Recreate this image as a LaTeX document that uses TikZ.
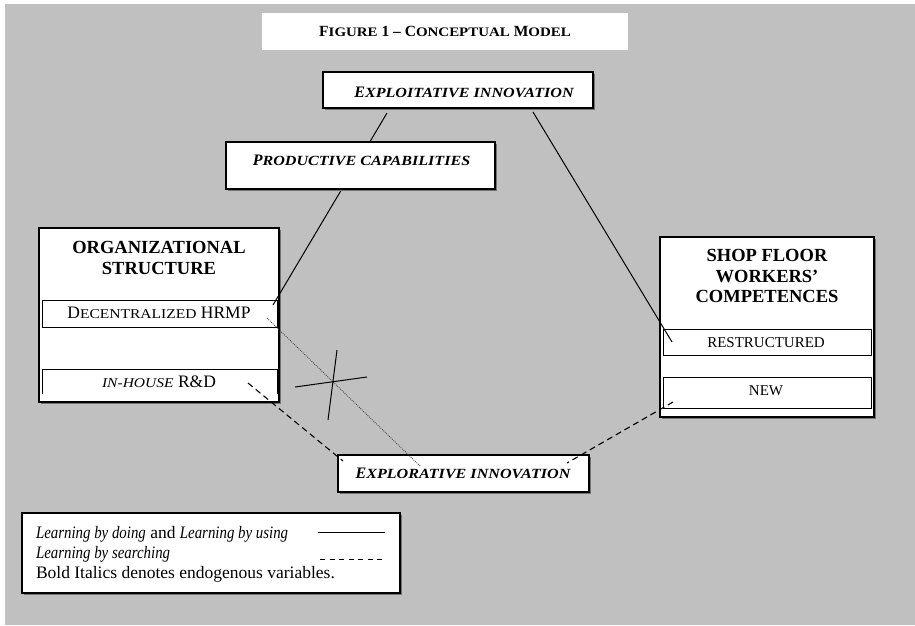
\documentclass[tikz,border=0pt]{standalone}
\usepackage{fontspec}
\setmainfont{Liberation Serif}
\newfontfamily\scf[FakeStretch=1.15]{Liberation Serif}
\newfontfamily\nit[FakeStretch=0.85]{Liberation Serif}
\usetikzlibrary{shadows}
\newcommand\sm[2]{{\scf\fontsize{#1}{#1}\selectfont #2}}
\newcommand\li[1]{{\nit\itshape #1}}
\definecolor{bggray}{HTML}{C0C0C0}
\begin{document}
\begin{tikzpicture}[x=1pt,y=-1pt,
  bigbox/.style={draw=black, fill=white, line width=1.1pt, inner sep=0pt, outer sep=0pt,
     drop shadow={shadow xshift=1.6pt, shadow yshift=-1.6pt, fill=black!55, opacity=1}},
  smallbox/.style={draw=black, fill=white, line width=0.9pt, inner sep=0pt, outer sep=0pt},
  txt/.style={inner sep=0pt, outer sep=0pt, align=center},
  solidlink/.style={draw=black, line width=1pt},
  dashlink/.style={draw=black, line width=1.1pt, dash pattern=on 6pt off 4pt},
  dotlink/.style={draw=black!75, line width=0.8pt, dash pattern=on 0.9pt off 1.1pt},
  bi/.style={font=\bfseries\itshape\fontsize{16}{19}\selectfont},
  rg/.style={font=\fontsize{17.5}{20}\selectfont},
  ttl/.style={font=\bfseries\fontsize{18.5}{20.5}\selectfont}
]
% background
\useasboundingbox (0,0) rectangle (915,625);
\fill[white] (0,0) rectangle (915,625);
\fill[bggray] (5,4) rectangle (915,625);

% title
\node[fill=white, inner sep=0pt, minimum width=366pt, minimum height=37pt] (titlebox) at (445,31.5) {};
\node[txt, font=\bfseries\fontsize{15.5}{18}\selectfont] (title) at (445,31)
  {F\sm{13}{IGURE} 1 -- C\sm{13}{ONCEPTUAL} M\sm{13}{ODEL}};

% organizational structure
\node[bigbox, minimum width=240pt, minimum height=174pt] (org) at (159,315) {};
\node[txt, ttl] (orgt) at (159,258) {ORGANIZATIONAL\\STRUCTURE};
\node[smallbox, minimum width=235pt, minimum height=27pt] (hrmp) at (159.5,313.5) {};
\node[txt, rg] (hrmpt) at (159,313) {D\sm{13.5}{ECENTRALIZED} HRMP};
\node[inner sep=0pt, outer sep=0pt, minimum width=235pt, minimum height=25pt] (rd) at (159.5,381.5) {};
\draw[line width=0.9pt] (rd.south west) -- (rd.north west) -- (rd.north east) -- (rd.south east);
\node[txt, rg] (rdt) at (159,382) {\textit{\sm{13.5}{IN-HOUSE}} R\&D};

% shop floor workers' competences
\node[bigbox, minimum width=214pt, minimum height=180pt] (shop) at (767,327) {};
\node[txt, ttl] (shopt) at (767,276) {SHOP FLOOR\\WORKERS’\\COMPETENCES};
\node[smallbox, minimum width=208pt, minimum height=26pt] (restr) at (767,342) {};
\node[txt, font=\fontsize{15}{18}\selectfont] (restrt) at (766,342.5) {RESTRUCTURED};
\node[smallbox, minimum width=208pt, minimum height=31pt] (new) at (767,392.5) {};
\node[txt, font=\fontsize{15}{18}\selectfont] (newt) at (766,391) {NEW};

% explorative innovation
\node[bigbox, minimum width=251pt, minimum height=37pt] (explor) at (463.5,473.5) {};
\node[txt, bi] (explort) at (463,473.5) {E\sm{14}{XPLORATIVE INNOVATION}};

% exploitative innovation
\node[bigbox, minimum width=270pt, minimum height=36pt] (exploit) at (458,90) {};
\node[txt, bi] (exploitt) at (464,92) {E\sm{14}{XPLOITATIVE INNOVATION}};

% connector endpoints
\coordinate (a1) at (387,113);
\coordinate (a2) at (273,305);
\coordinate (b1) at (533,112);
\coordinate (b2) at (672,342);
\coordinate (c1) at (248,383);
\coordinate (c2) at (343,461);
\coordinate (d1) at (673,402);
\coordinate (d2) at (567,463);
\coordinate (e1) at (267,318);
\coordinate (e2) at (420,466);
\coordinate (x1) at (295,387);
\coordinate (x2) at (367,377);
\coordinate (x3) at (337,350);
\coordinate (x4) at (328,420);

\draw[solidlink] (a1) -- (a2);
\draw[solidlink] (b1) -- (b2);
\draw[dashlink] (c1) -- (c2);
\draw[dashlink] (d1) -- (d2);
\draw[dotlink] (e1) -- (e2);
\draw[solidlink] (x1) -- (x2);
\draw[solidlink] (x3) -- (x4);

% productive capabilities (on top of the line)
\node[bigbox, minimum width=269pt, minimum height=47pt] (prod) at (360.5,165.5) {};
\node[txt, bi] (prodt) at (361.5,160.5) {P\sm{14}{RODUCTIVE CAPABILITIES}};

% legend
\node[bigbox, minimum width=378pt, minimum height=80pt] (legend) at (211,553) {};
\node[inner sep=0pt, outer sep=0pt, anchor=base west, rg] (l1) at (36,538) {\li{Learning by doing} and \li{Learning by using}};
\node[inner sep=0pt, outer sep=0pt, anchor=base west, rg] (l2) at (36,558) {\li{Learning by searching}};
\node[inner sep=0pt, outer sep=0pt, anchor=base west, rg] (l3) at (36,578) {Bold Italics denotes endogenous variables.};
\coordinate (s1) at (318,532);
\coordinate (s2) at (385,532);
\coordinate (t1) at (320,559);
\coordinate (t2) at (385,559);
\draw[line width=1pt] (s1) -- (s2);
\draw[line width=1pt, dash pattern=on 5pt off 4.5pt] (t1) -- (t2);
\end{tikzpicture}
\end{document}
